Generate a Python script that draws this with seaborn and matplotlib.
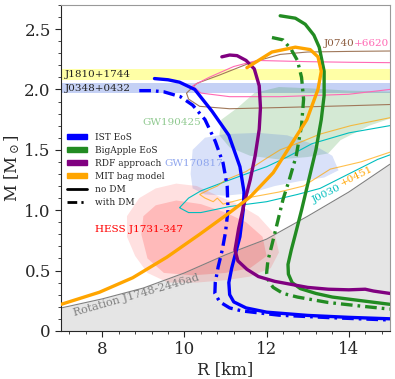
import numpy as np
import pandas as pd
import matplotlib
matplotlib.use("Agg")
import matplotlib.pyplot as plt
from matplotlib.patches import Patch, Polygon
from matplotlib.lines import Line2D
from matplotlib.ticker import AutoMinorLocator, FixedLocator, FixedFormatter
import seaborn as sns

# ---- M-R curves (R in km, M in Msun) ----
ist_r = [9.27, 9.6, 9.88, 10.25, 10.67, 11.08, 11.35, 11.45, 11.43, 11.35, 11.25, 11.15,
         11.08, 11.1, 11.2, 11.5, 12.0, 13.0, 14.0, 15.0]
ist_m = [2.09, 2.08, 2.06, 2.0, 1.82, 1.62, 1.36, 1.15, 1.0, 0.78, 0.65, 0.52,
         0.40, 0.30, 0.24, 0.19, 0.155, 0.128, 0.112, 0.10]
ist_dm_r = [8.9, 9.2, 9.5, 9.9, 10.2, 10.5, 10.75, 10.94, 11.04, 11.06, 11.0, 10.92, 10.82,
            10.75, 10.74, 10.86, 11.1, 11.4, 12.3, 13.5, 15.0]
ist_dm_m = [1.99, 1.99, 1.98, 1.94, 1.87, 1.75, 1.57, 1.39, 1.2, 1.0, 0.82, 0.67, 0.53,
            0.40, 0.31, 0.24, 0.19, 0.165, 0.13, 0.11, 0.09]
ba_r = [12.33, 12.7, 12.94, 13.15, 13.28, 13.4, 13.4, 13.33, 13.2, 12.99, 12.85, 12.7, 12.6,
        12.52, 12.53, 12.62, 12.82, 13.2, 13.6, 14.3, 15.0]
ba_m = [2.61, 2.59, 2.54, 2.45, 2.35, 2.15, 1.95, 1.75, 1.5, 1.2, 1.0, 0.8, 0.67,
        0.55, 0.47, 0.40, 0.35, 0.31, 0.28, 0.25, 0.22]
ba_dm_r = [12.13, 12.4, 12.6, 12.75, 12.85, 12.9, 12.85, 12.72, 12.55, 12.4, 12.25, 12.12,
           12.03, 12.0, 12.05, 12.16, 12.4, 12.75, 13.5, 14.3, 15.0]
ba_dm_m = [2.43, 2.41, 2.33, 2.24, 2.1, 1.92, 1.7, 1.45, 1.25, 1.09, 0.88, 0.70,
           0.58, 0.48, 0.41, 0.36, 0.31, 0.28, 0.235, 0.205, 0.18]
rdf_r = [10.91, 11.1, 11.28, 11.5, 11.7, 11.82, 11.85, 11.82, 11.72, 11.6, 11.45, 11.32, 11.23,
         11.3, 11.52, 11.8, 12.2, 13.0, 13.5, 14.0, 14.4, 14.6, 15.0]
rdf_m = [2.27, 2.285, 2.28, 2.24, 2.17, 2.03, 1.85, 1.67, 1.45, 1.25, 1.05, 0.85, 0.67,
         0.58, 0.51, 0.45, 0.41, 0.36, 0.345, 0.34, 0.345, 0.33, 0.31]
mit_r = [7.0, 7.93, 8.74, 9.57, 10.37, 11.1, 11.6, 12.16, 12.57, 12.98, 13.25, 13.33, 13.25,
         13.06, 12.7, 12.13, 11.52]
mit_m = [0.22, 0.32, 0.44, 0.61, 0.80, 0.98, 1.11, 1.31, 1.53, 1.75, 2.0, 2.15, 2.27,
         2.33, 2.35, 2.31, 2.18]

# ---- observational constraints ----
j1810_band = (2.08, 2.17)
j0348_band = (1.97, 2.05)
rot_r = [7, 8, 9, 10, 11, 12, 13, 14, 15]
rot_m = [0.19, 0.265, 0.355, 0.48, 0.63, 0.76, 0.95, 1.15, 1.38]

gw190425 = [(10.85, 1.62), (10.9, 1.75), (11.3, 1.85), (11.7, 1.97), (12.3, 2.02), (13.0, 2.01),
            (14.0, 1.99), (15.2, 1.98), (15.2, 1.78), (14.5, 1.70), (13.8, 1.58), (13.5, 1.47),
            (13.0, 1.44), (12.3, 1.42), (11.6, 1.45), (11.1, 1.52)]
gw170817 = [(10.15, 1.3), (10.2, 1.5), (10.5, 1.6), (11.0, 1.63), (11.8, 1.64), (12.5, 1.62),
            (13.1, 1.55), (13.6, 1.45), (13.75, 1.33), (13.4, 1.27), (12.8, 1.24), (12.2, 1.2),
            (11.6, 1.14), (11.0, 1.12), (10.5, 1.13), (10.2, 1.18)]
hess_outer = [(8.6, 0.95), (8.9, 1.1), (9.3, 1.18), (9.8, 1.22), (10.3, 1.2), (10.8, 1.12),
              (11.3, 1.05), (11.8, 0.95), (12.2, 0.8), (12.3, 0.65), (12.1, 0.52), (11.6, 0.45),
              (11.0, 0.42), (10.3, 0.40), (9.6, 0.40), (9.1, 0.48), (8.8, 0.62), (8.6, 0.78)]
hess_inner = [(9.0, 0.95), (9.3, 1.04), (9.8, 1.08), (10.4, 1.05), (11.0, 0.98), (11.5, 0.9),
              (11.9, 0.78), (12.0, 0.62), (11.6, 0.52), (11.0, 0.48), (10.2, 0.46), (9.5, 0.48),
              (9.1, 0.6), (8.95, 0.8)]
j0740_a = [(10.05, 1.97), (10.3, 2.05), (10.86, 2.12), (11.6, 2.22), (12.33, 2.29), (13.0, 2.31),
           (14.0, 2.315), (15.5, 2.32), (15.5, 1.88), (14.0, 1.865), (12.33, 1.85), (11.1, 1.84),
           (10.37, 1.86), (10.1, 1.92)]
j0740_b = [(10.2, 2.03), (10.6, 2.1), (11.2, 2.19), (11.77, 2.24), (13.0, 2.23), (14.0, 2.225),
           (15.5, 2.22), (15.5, 2.02), (15.0, 2.0), (14.0, 1.96), (12.33, 1.94), (11.1, 1.94),
           (10.4, 1.97)]
j0030_a = [(9.88, 1.02), (10.1, 1.1), (10.4, 1.16), (10.94, 1.23), (11.5, 1.30), (12.0, 1.36),
           (12.5, 1.44), (13.1, 1.55), (14.0, 1.64), (15.5, 1.73), (15.5, 1.52), (14.7, 1.42),
           (14.0, 1.30), (13.3, 1.18), (12.75, 1.13), (12.0, 1.07), (11.1, 1.03), (10.4, 0.98),
           (10.1, 0.98)]
j0030_b = [(10.37, 1.13), (10.6, 1.17), (10.8, 1.2), (11.0, 1.25), (11.5, 1.32), (12.0, 1.43),
           (12.33, 1.5), (12.8, 1.56), (13.3, 1.63), (14.05, 1.70), (15.5, 1.8), (15.5, 1.47),
           (15.0, 1.48), (14.3, 1.40), (13.55, 1.34), (12.9, 1.2), (12.3, 1.15), (11.5, 1.1),
           (10.94, 1.05), (10.8, 1.1), (10.7, 1.07), (10.5, 1.1)]

xticks = [8, 10, 12, 14]
yticks = [0, 0.5, 1.0, 1.5, 2.0, 2.5]
ytick_labels = ["0", "0.5", "1.0", "1.5", "2.0", "2.5"]

sns.set_style("ticks")
plt.rcParams["font.family"] = ["DejaVu Serif"]
plt.rcParams["mathtext.fontset"] = "dejavuserif"

fig = plt.figure(figsize=(3.95, 3.79), dpi=100)
ax = fig.add_axes([0.155, 0.127, 0.832, 0.86])

# shaded constraints
ax.axhspan(*j1810_band, color="yellow", alpha=0.35, lw=0, zorder=1)
ax.axhspan(*j0348_band, color="royalblue", alpha=0.3, lw=0, zorder=1)
ax.fill_between(rot_r, 0, rot_m, color="gray", alpha=0.2, lw=0, zorder=1)
sns.lineplot(x=rot_r, y=rot_m, color="gray", lw=0.8, ax=ax, zorder=2)

ax.add_patch(Polygon(gw190425, closed=True, fc="green", alpha=0.17, lw=0, zorder=1))
ax.add_patch(Polygon(gw170817, closed=True, fc="royalblue", alpha=0.2, lw=0, zorder=1))
ax.add_patch(Polygon(hess_outer, closed=True, fc="red", alpha=0.12, lw=0, zorder=1))
ax.add_patch(Polygon(hess_inner, closed=True, fc="red", alpha=0.17, lw=0, zorder=1))
ax.add_patch(Polygon(j0740_a, closed=True, fill=False, ec="#a0785a", lw=0.8, zorder=2))
ax.add_patch(Polygon(j0740_b, closed=True, fill=False, ec="hotpink", lw=0.8, zorder=2))
ax.add_patch(Polygon(j0030_a, closed=True, fill=False, ec="c", lw=0.8, zorder=2))
ax.add_patch(Polygon(j0030_b, closed=True, fill=False, ec="orange", lw=0.8, alpha=0.7, zorder=2))

# M-R curves
dashdot = (3.5, 1.5, 0.8, 1.5)
curves = [
    (ist_r, ist_m, "blue", None),
    (ist_dm_r, ist_dm_m, "blue", dashdot),
    (ba_r, ba_m, "forestgreen", None),
    (ba_dm_r, ba_dm_m, "forestgreen", dashdot),
    (rdf_r, rdf_m, "purple", None),
    (mit_r, mit_m, "orange", None),
]
for r, m, col, dsh in curves:
    df = pd.DataFrame({"R": r, "M": m})
    kw = {"dashes": dsh} if dsh else {}
    sns.lineplot(data=df, x="R", y="M", sort=False, estimator=None, color=col,
                 lw=2.4, ax=ax, zorder=4, **kw)

# labels
fs = 7.5
ax.text(7.08, 2.125, "J1810+1744", fontsize=fs, va="center", color="#222222", zorder=5)
ax.text(7.08, 2.01, "J0348+0432", fontsize=fs, va="center", color="#222222", zorder=5)
ax.text(8.98, 1.73, "GW190425", fontsize=fs, va="center", color="#8fc98f", zorder=5)
ax.text(9.5, 1.39, "GW170817", fontsize=fs, va="center", color="#8fa6ee", zorder=5)
ax.text(7.83, 0.84, "HESS J1731-347", fontsize=fs, va="center", color="red", zorder=5)
ax.text(13.38, 2.38, "J0740", fontsize=fs, va="center", color="#8b5a3c", zorder=5)
ax.text(14.12, 2.38, "+6620", fontsize=fs, va="center", color="hotpink", zorder=5)
ax.text(7.32, 0.12, "Rotation J1748-2446ad", fontsize=8, color="gray", rotation=16,
        rotation_mode="anchor", zorder=5)
ax.text(13.14, 1.06, "J0030", fontsize=fs, color="c", rotation=26,
        rotation_mode="anchor", zorder=5)
ax.text(13.83, 1.2, "+0451", fontsize=fs, color="orange", rotation=26,
        rotation_mode="anchor", zorder=5)

handles = [Patch(color="blue", label="IST EoS"),
           Patch(color="forestgreen", label="BigApple EoS"),
           Patch(color="purple", label="RDF approach"),
           Patch(color="orange", label="MIT bag model"),
           Line2D([], [], color="black", lw=2, label="no DM"),
           Line2D([], [], color="black", lw=2, dashes=dashdot, label="with DM")]
ax.legend(handles=handles, loc="upper left", bbox_to_anchor=(0.0, 0.625), frameon=False,
          fontsize=6.5, labelspacing=0.45, handlelength=2.3, handleheight=0.6,
          handletextpad=0.8, borderaxespad=0.2)

ax.set_xlim(7, 15)
ax.set_ylim(0, 2.7)
ax.xaxis.set_major_locator(FixedLocator(xticks))
ax.yaxis.set_major_locator(FixedLocator(yticks))
ax.yaxis.set_major_formatter(FixedFormatter(ytick_labels))
ax.xaxis.set_minor_locator(AutoMinorLocator(5))
ax.yaxis.set_minor_locator(AutoMinorLocator(5))
ax.tick_params(axis="both", which="major", labelsize=12, direction="out", length=4)
ax.tick_params(axis="both", which="minor", direction="out", length=2)
ax.set_xlabel("R [km]", fontsize=12, labelpad=2)
ax.set_ylabel(r"M [M$_\odot$]", fontsize=12, labelpad=2)
for s in ["top", "right"]:
    ax.spines[s].set_color("#999999")

fig.savefig("out.png", dpi=100)
